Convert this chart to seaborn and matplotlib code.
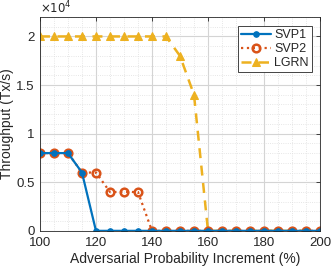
import numpy as np
import pandas as pd
import seaborn as sns
import matplotlib
matplotlib.use("Agg")
import matplotlib.pyplot as plt
from matplotlib.ticker import MultipleLocator, FuncFormatter

x_vals = list(range(100, 201, 5))
svp1 = [8000, 8000, 8000, 6000, 0, 0, 0, 0, 0, 0, 0, 0, 0, 0, 0, 0, 0, 0, 0, 0, 0]
svp2 = [8000, 8000, 8000, 6000, 6000, 4000, 4000, 4000, 0, 0, 0, 0, 0, 0, 0, 0, 0, 0, 0, 0, 0]
lgrn = [20000, 20000, 20000, 20000, 20000, 20000, 20000, 20000, 20000, 20000, 18000, 14000,
        0, 0, 0, 0, 0, 0, 0, 0, 0]
series_names = ["SVP1", "SVP2", "LGRN"]

sns.set_style("white")
plt.rcParams['font.family'] = ['Liberation Sans', 'DejaVu Sans']

df = pd.DataFrame({
    "x": x_vals * 3,
    "y": svp1 + svp2 + lgrn,
    "series": [series_names[0]] * len(x_vals) + [series_names[1]] * len(x_vals) + [series_names[2]] * len(x_vals),
})

fig = plt.figure(figsize=(3.33, 2.70), dpi=100)
ax = fig.add_axes([0.12, 0.145, 0.841, 0.792])

colors = {"SVP1": "#0072BD", "SVP2": "#D95319", "LGRN": "#EDB120"}
styles = {
    "SVP1": dict(linestyle="-", marker="o", markersize=4, markerfacecolor="#0072BD", markeredgecolor="#0072BD", linewidth=1.6),
    "SVP2": dict(linestyle=":", marker="o", markersize=5.5, markerfacecolor="none", markeredgecolor="#D95319", markeredgewidth=1.8, linewidth=1.6),
    "LGRN": dict(linestyle=(0, (4, 3)), marker="^", markersize=6, markerfacecolor="#EDB120", markeredgecolor="#EDB120", linewidth=1.8),
}
for name in ["LGRN", "SVP2", "SVP1"]:
    sub = df[df["series"] == name]
    sns.lineplot(data=sub, x="x", y="y", ax=ax, color=colors[name], label=name, **styles[name])

ax.set_xlim(100, 200)
ax.set_ylim(0, 22000)
ax.xaxis.set_major_locator(MultipleLocator(20))
ax.xaxis.set_minor_locator(MultipleLocator(5))
ax.yaxis.set_major_locator(MultipleLocator(5000))
ax.yaxis.set_minor_locator(MultipleLocator(1000))
ax.yaxis.set_major_formatter(FuncFormatter(lambda v, p: ("%g" % (v / 1e4))))
ax.grid(True, which="major", color="#d4d4d4", linewidth=0.8)
ax.grid(True, which="minor", color="#dedede", linewidth=0.6, linestyle=":")
ax.set_axisbelow(True)
for s in ax.spines.values():
    s.set_color("#262626")
    s.set_linewidth(0.6)
ax.tick_params(axis="both", which="major", labelsize=9.5, colors="#262626", direction="in", length=3, width=0.6,
               top=True, right=True)
ax.tick_params(axis="x", which="major", pad=4.5)
ax.tick_params(axis="y", which="major", pad=4)
ax.tick_params(axis="both", which="minor", length=0)
ax.set_xlabel("Adversarial Probability Increment (%)", fontsize=10, color="#262626")
ax.set_ylabel("Throughput (Tx/s)", fontsize=10, color="#262626")
ax.yaxis.set_label_coords(-0.093, 0.5)
ax.xaxis.set_label_coords(0.52, -0.098)
ax.text(0.0, 1.005, r"$\times10^4$", transform=ax.transAxes, fontsize=8.5, color="#262626", ha="left", va="bottom")

handles, labels = ax.get_legend_handles_labels()
order = [labels.index(n) for n in series_names]
leg = ax.legend([handles[i] for i in order], [labels[i] for i in order], loc="upper right",
                fontsize=9, frameon=True, fancybox=False, edgecolor="#262626", framealpha=1,
                handlelength=2.4, borderpad=0.25, labelspacing=0.15, handletextpad=0.3,
                borderaxespad=0.3, bbox_to_anchor=(0.985, 0.975))
leg.get_frame().set_linewidth(0.6)

fig.savefig("out.png", dpi=100)
